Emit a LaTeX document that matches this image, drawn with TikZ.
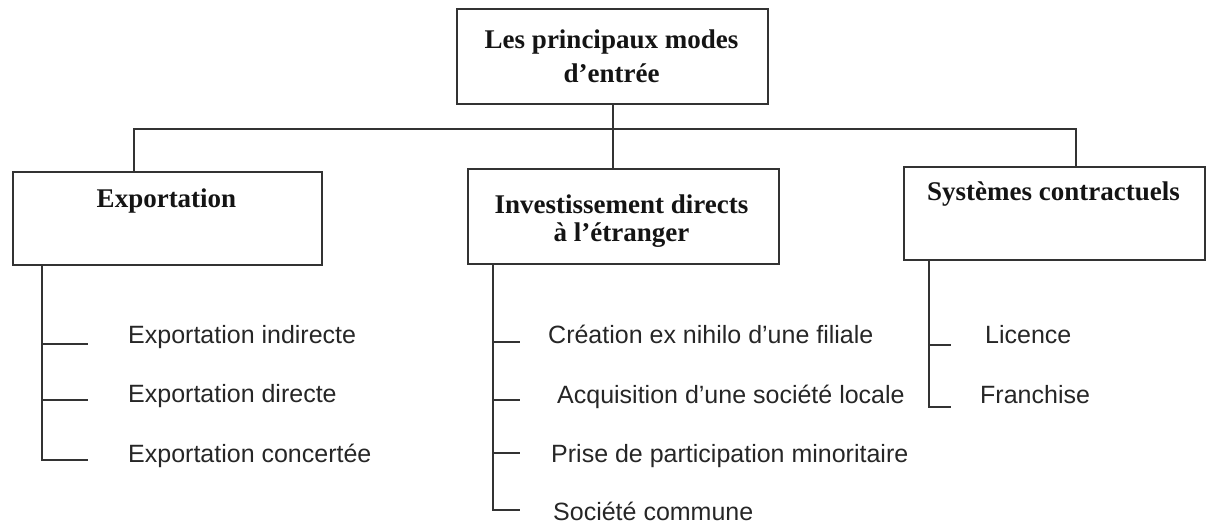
\documentclass[tikz,border=0pt]{standalone}
\usepackage{fontspec}
\setmainfont{Liberation Serif}
\setsansfont{Liberation Sans}
\begin{document}
\begin{tikzpicture}[x=1pt,y=-1pt,
  line/.style={draw=black!80, line width=2pt},
  box/.style={draw=black!80, line width=2.2pt, rectangle, inner sep=0pt, anchor=north west},
  head/.style={font=\fontsize{27}{32}\selectfont\bfseries, text=black!92, inner sep=0pt, anchor=base},
  item/.style={font=\sffamily\fontsize{25}{30}\selectfont, text=black!85, inner sep=0pt, anchor=base west}]
\useasboundingbox (0,0) rectangle (1206,525);

% boxes
\node[box, minimum width=311pt, minimum height=95pt] (top) at (456,8) {};
\node[box, minimum width=309pt, minimum height=93pt] (exp) at (12,171) {};
\node[box, minimum width=311pt, minimum height=95pt] (ide) at (467,168) {};
\node[box, minimum width=301pt, minimum height=93pt] (sys) at (903,166) {};

% box titles
\node[head] (topa) at (611.5,48) {Les principaux modes};
\node[head] (topb) at (611.5,82) {d’entrée};
\node[head] (expt) at (166.5,207) {Exportation};
\node[head] (idea) at (621.5,213) {Investissement directs};
\node[head] (ideb) at (621.5,241) {à l’étranger};
\node[head] (syst) at (1053.5,200) {Systèmes contractuels};

% main branching
\coordinate (hl) at (134,129);
\coordinate (hr) at (1076,129);
\draw[line] (top.south) -- (top.south |- ide.north);
\draw[line] (exp.north -| hl) -- (hl) -- (hr) -- (sys.north -| hr);

% Exportation sub-items
\coordinate (e1) at (88,344);
\coordinate (e2) at (88,400);
\coordinate (e3) at (88,460);
\coordinate (es) at (42,0);
\draw[line] (exp.south -| es) |- (e3);
\draw[line] (es |- e1) -- (e1);
\draw[line] (es |- e2) -- (e2);
\node[item] (ei1) at (128,343) {Exportation indirecte};
\node[item] (ei2) at (128,402) {Exportation directe};
\node[item] (ei3) at (128,462) {Exportation concertée};

% IDE sub-items
\coordinate (i1) at (520,342);
\coordinate (i2) at (520,400);
\coordinate (i3) at (520,453);
\coordinate (i4) at (520,510);
\coordinate (is) at (493,0);
\draw[line] (ide.south -| is) |- (i4);
\draw[line] (is |- i1) -- (i1);
\draw[line] (is |- i2) -- (i2);
\draw[line] (is |- i3) -- (i3);
\node[item] (ii1) at (548,343) {Création ex nihilo d’une filiale};
\node[item] (ii2) at (557,403) {Acquisition d’une société locale};
\node[item] (ii3) at (551,462) {Prise de participation minoritaire};
\node[item] (ii4) at (553,520) {Société commune};

% contractual sub-items
\coordinate (s1) at (951,345);
\coordinate (s2) at (951,407);
\coordinate (ss) at (929,0);
\draw[line] (sys.south -| ss) |- (s2);
\draw[line] (ss |- s1) -- (s1);
\node[item] (si1) at (985,343) {Licence};
\node[item] (si2) at (980,403) {Franchise};
\end{tikzpicture}
\end{document}
